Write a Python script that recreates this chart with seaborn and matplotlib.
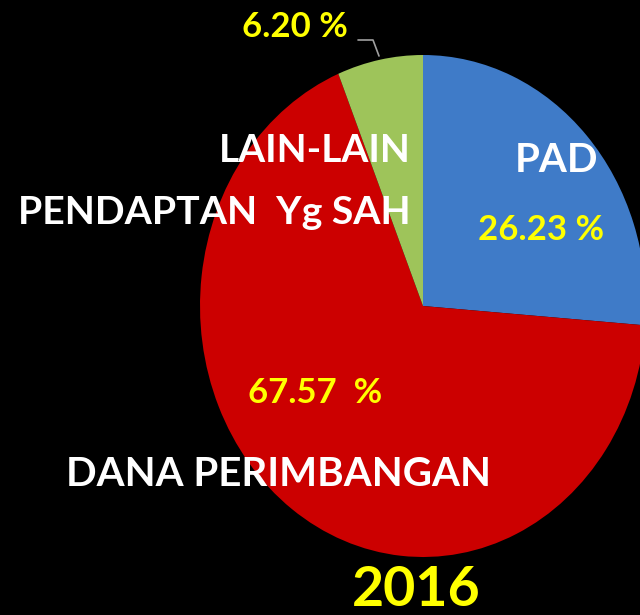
import matplotlib
matplotlib.use("Agg")
import matplotlib.pyplot as plt
import seaborn as sns

# shares of revenue, 2016
labels = ["PAD", "DANA PERIMBANGAN", "LAIN-LAIN"]
shares = [26.23, 67.57, 6.20]
pct_text = ["26.23 %", "67.57  %", "6.20 %"]
colors = ["#3f7bc8", "#cc0000", "#9ec45a"]
extra_line = "PENDAPTAN  Yg SAH"
year = "2016"

sns.set_theme(style="white")
plt.rcParams["font.family"] = ["Lato", "DejaVu Sans"]

W, H = 640, 615
fig = plt.figure(figsize=(6.4, 6.15), dpi=100, facecolor="black")

# pie drawn in its own axes so it can be slightly elliptical like the original
cx, cy, rx, ry = 423, 306, 223, 251
ax = fig.add_axes([(cx - rx) / W, (H - cy - ry) / H, 2 * rx / W, 2 * ry / H])
ax.pie(shares, colors=colors, startangle=90, counterclock=False,
       wedgeprops=dict(linewidth=0))
ax.set_xlim(-1, 1)
ax.set_ylim(-1, 1)
ax.set_aspect("auto")
ax.axis("off")

# overlay for the labels, in pixel coords
tx = fig.add_axes([0, 0, 1, 1])
tx.set_xlim(0, W)
tx.set_ylim(H, 0)
tx.axis("off")
tx.patch.set_alpha(0)

white = dict(color="white", fontweight="bold")
yellow = dict(color="#ffff00", fontweight="bold")

tx.text(557, 160, labels[0], ha="center", va="center", fontsize=29, **white)
tx.text(541, 230, pct_text[0], ha="center", va="center", fontsize=25, **yellow)

tx.text(411, 150, labels[2], ha="right", va="center", fontsize=28, **white)
tx.text(411, 213, extra_line, ha="right", va="center", fontsize=28.3, **white)
tx.text(295, 27, pct_text[2], ha="center", va="center", fontsize=25, **yellow)
tx.plot([358, 373, 379], [40, 40, 56], color="#a0a0a0", lw=1.2)

tx.text(315, 393, pct_text[1], ha="center", va="center", fontsize=25, **yellow)
tx.text(278, 474, labels[1], ha="center", va="center", fontsize=29, **white)

tx.text(416, 590, year, ha="center", va="center", fontsize=40, **yellow)

fig.savefig("out.png", dpi=100, facecolor="black")
